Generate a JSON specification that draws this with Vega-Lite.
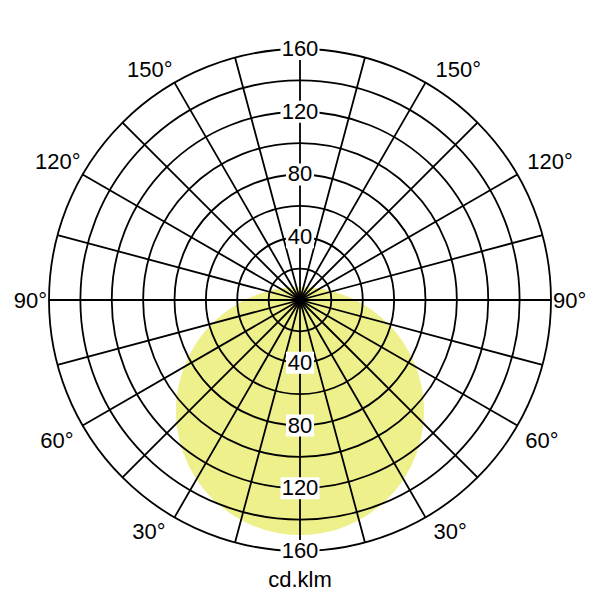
{
  "$schema": "https://vega.github.io/schema/vega-lite/v6.json",
  "width": 600,
  "height": 600,
  "padding": 0,
  "autosize": {"type": "none"},
  "background": "white",
  "config": {
    "view": {"stroke": null},
    "text": {"font": "Liberation Sans", "fontSize": 22, "color": "black"}
  },
  "datasets": {
    "light": [
      {"x": -79, "top": -70.75, "bot": -70.75},
      {"x": -78.9, "top": -66.78, "bot": -74.72},
      {"x": -78.5, "top": -61.88, "bot": -79.62},
      {"x": -78, "top": -58.22, "bot": -83.28},
      {"x": -77, "top": -53.09, "bot": -88.41},
      {"x": -76, "top": -49.19, "bot": -92.31},
      {"x": -75, "top": -45.93, "bot": -95.57},
      {"x": -72, "top": -38.24, "bot": -103.26},
      {"x": -68, "top": -30.54, "bot": -110.96},
      {"x": -62, "top": -21.79, "bot": -119.71},
      {"x": -55, "top": -14.04, "bot": -127.46},
      {"x": -45, "top": -5.82, "bot": -135.68},
      {"x": -30, "top": 2.33, "bot": -143.83},
      {"x": -15, "top": 6.81, "bot": -148.31},
      {"x": 0, "top": 8.25, "bot": -149.75},
      {"x": 15, "top": 6.81, "bot": -148.31},
      {"x": 30, "top": 2.33, "bot": -143.83},
      {"x": 45, "top": -5.82, "bot": -135.68},
      {"x": 55, "top": -14.04, "bot": -127.46},
      {"x": 62, "top": -21.79, "bot": -119.71},
      {"x": 68, "top": -30.54, "bot": -110.96},
      {"x": 72, "top": -38.24, "bot": -103.26},
      {"x": 75, "top": -45.93, "bot": -95.57},
      {"x": 76, "top": -49.19, "bot": -92.31},
      {"x": 77, "top": -53.09, "bot": -88.41},
      {"x": 78, "top": -58.22, "bot": -83.28},
      {"x": 78.5, "top": -61.88, "bot": -79.62},
      {"x": 78.9, "top": -66.78, "bot": -74.72},
      {"x": 79, "top": -70.75, "bot": -70.75}
    ],
    "rings": [
      {"r": 20}, {"r": 40}, {"r": 60}, {"r": 80},
      {"r": 100}, {"r": 120}, {"r": 140}, {"r": 160}
    ],
    "spokes": [
      {"a": -165}, {"a": -150}, {"a": -135}, {"a": -120}, {"a": -105}, {"a": -90},
      {"a": -75}, {"a": -60}, {"a": -45}, {"a": -30}, {"a": -15}, {"a": 0},
      {"a": 15}, {"a": 30}, {"a": 45}, {"a": 60}, {"a": 75}, {"a": 90},
      {"a": 105}, {"a": 120}, {"a": 135}, {"a": 150}, {"a": 165}, {"a": 180}
    ],
    "values": [
      {"v": 40, "label": "40"}, {"v": 80, "label": "80"},
      {"v": 120, "label": "120"}, {"v": 160, "label": "160"},
      {"v": -40, "label": "40"}, {"v": -80, "label": "80"},
      {"v": -120, "label": "120"}, {"v": -160, "label": "160"}
    ],
    "angles": [
      {"a": 150, "label": "150°"}, {"a": 120, "label": "120°"},
      {"a": 90, "label": "90°"}, {"a": 60, "label": "60°"},
      {"a": 30, "label": "30°"},
      {"a": -150, "label": "150°"}, {"a": -120, "label": "120°"},
      {"a": -90, "label": "90°"}, {"a": -60, "label": "60°"},
      {"a": -30, "label": "30°"}
    ]
  },
  "layer": [
    {
      "data": {"name": "light"},
      "mark": {"type": "area", "color": "#eef08b", "opacity": 1, "interpolate": "monotone"},
      "encoding": {
        "x": {"field": "x", "type": "quantitative", "axis": null,
              "scale": {"domain": [-191.235, 191.235], "nice": false, "zero": false}},
        "y": {"field": "top", "type": "quantitative", "axis": null, "stack": null,
              "scale": {"domain": [-191.235, 191.235], "nice": false, "zero": false}},
        "y2": {"field": "bot"}
      }
    },
    {
      "data": {"name": "rings"},
      "mark": {"type": "arc", "filled": false, "stroke": "black", "strokeWidth": 1.8},
      "encoding": {
        "theta": {"datum": -180, "type": "quantitative",
                  "scale": {"domain": [-180, 180], "range": [0, 6.283185307179586], "nice": false, "zero": false}},
        "theta2": {"datum": 180},
        "radius": {"field": "r", "type": "quantitative", "stack": null,
                   "scale": {"type": "linear", "domain": [0, 160], "range": [0, 251], "nice": false, "zero": true}}
      }
    },
    {
      "data": {"name": "spokes"},
      "mark": {"type": "arc", "filled": false, "stroke": "black", "strokeWidth": 1.8},
      "encoding": {
        "theta": {"field": "a", "type": "quantitative", "stack": null,
                  "scale": {"domain": [-180, 180], "range": [0, 6.283185307179586], "nice": false, "zero": false}},
        "theta2": {"field": "a"},
        "radius": {"datum": 160, "type": "quantitative",
                   "scale": {"type": "linear", "domain": [0, 160], "range": [0, 251], "nice": false, "zero": true}},
        "radius2": {"datum": 0}
      }
    },
    {
      "data": {"name": "values"},
      "transform": [{"filter": "abs(datum.v) < 100"}],
      "mark": {"type": "point", "shape": "M-1,-0.786H1V0.786H-1Z", "size": 784,
               "filled": true, "color": "white", "opacity": 1, "strokeWidth": 0},
      "encoding": {
        "x": {"datum": 0, "type": "quantitative", "axis": null,
              "scale": {"domain": [-191.235, 191.235], "nice": false, "zero": false}},
        "y": {"field": "v", "type": "quantitative", "axis": null,
              "scale": {"domain": [-191.235, 191.235], "nice": false, "zero": false}}
      }
    },
    {
      "data": {"name": "values"},
      "transform": [{"filter": "abs(datum.v) >= 100"}],
      "mark": {"type": "point", "shape": "M-1,-0.564H1V0.564H-1Z", "size": 1521,
               "filled": true, "color": "white", "opacity": 1, "strokeWidth": 0},
      "encoding": {
        "x": {"datum": 0, "type": "quantitative", "axis": null,
              "scale": {"domain": [-191.235, 191.235], "nice": false, "zero": false}},
        "y": {"field": "v", "type": "quantitative", "axis": null,
              "scale": {"domain": [-191.235, 191.235], "nice": false, "zero": false}}
      }
    },
    {
      "data": {"name": "values"},
      "mark": {"type": "text", "align": "center", "baseline": "middle"},
      "encoding": {
        "x": {"datum": 0, "type": "quantitative", "axis": null,
              "scale": {"domain": [-191.235, 191.235], "nice": false, "zero": false}},
        "y": {"field": "v", "type": "quantitative", "axis": null,
              "scale": {"domain": [-191.235, 191.235], "nice": false, "zero": false}},
        "text": {"field": "label"}
      }
    },
    {
      "data": {"name": "angles"},
      "transform": [{"filter": "datum.a > 90"}],
      "mark": {"type": "text", "align": "right", "baseline": "alphabetic", "dx": -2, "dy": -6},
      "encoding": {
        "theta": {"field": "a", "type": "quantitative", "stack": null,
                  "scale": {"domain": [-180, 180], "range": [0, 6.283185307179586], "nice": false, "zero": false}},
        "radius": {"datum": 160, "type": "quantitative",
                   "scale": {"type": "linear", "domain": [0, 160], "range": [0, 251], "nice": false, "zero": true}},
        "text": {"field": "label"}
      }
    },
    {
      "data": {"name": "angles"},
      "transform": [{"filter": "datum.a < -90"}],
      "mark": {"type": "text", "align": "left", "baseline": "alphabetic", "dx": 10, "dy": -6},
      "encoding": {
        "theta": {"field": "a", "type": "quantitative", "stack": null,
                  "scale": {"domain": [-180, 180], "range": [0, 6.283185307179586], "nice": false, "zero": false}},
        "radius": {"datum": 160, "type": "quantitative",
                   "scale": {"type": "linear", "domain": [0, 160], "range": [0, 251], "nice": false, "zero": true}},
        "text": {"field": "label"}
      }
    },
    {
      "data": {"name": "angles"},
      "transform": [{"filter": "datum.a == 90"}],
      "mark": {"type": "text", "align": "right", "baseline": "alphabetic", "dx": -2, "dy": 8},
      "encoding": {
        "theta": {"field": "a", "type": "quantitative", "stack": null,
                  "scale": {"domain": [-180, 180], "range": [0, 6.283185307179586], "nice": false, "zero": false}},
        "radius": {"datum": 160, "type": "quantitative",
                   "scale": {"type": "linear", "domain": [0, 160], "range": [0, 251], "nice": false, "zero": true}},
        "text": {"field": "label"}
      }
    },
    {
      "data": {"name": "angles"},
      "transform": [{"filter": "datum.a == -90"}],
      "mark": {"type": "text", "align": "left", "baseline": "alphabetic", "dx": 2, "dy": 8},
      "encoding": {
        "theta": {"field": "a", "type": "quantitative", "stack": null,
                  "scale": {"domain": [-180, 180], "range": [0, 6.283185307179586], "nice": false, "zero": false}},
        "radius": {"datum": 160, "type": "quantitative",
                   "scale": {"type": "linear", "domain": [0, 160], "range": [0, 251], "nice": false, "zero": true}},
        "text": {"field": "label"}
      }
    },
    {
      "data": {"name": "angles"},
      "transform": [{"filter": "datum.a > 0 && datum.a < 90"}],
      "mark": {"type": "text", "align": "right", "baseline": "alphabetic", "dx": -9, "dy": 22},
      "encoding": {
        "theta": {"field": "a", "type": "quantitative", "stack": null,
                  "scale": {"domain": [-180, 180], "range": [0, 6.283185307179586], "nice": false, "zero": false}},
        "radius": {"datum": 160, "type": "quantitative",
                   "scale": {"type": "linear", "domain": [0, 160], "range": [0, 251], "nice": false, "zero": true}},
        "text": {"field": "label"}
      }
    },
    {
      "data": {"name": "angles"},
      "transform": [{"filter": "datum.a < 0 && datum.a > -90"}],
      "mark": {"type": "text", "align": "left", "baseline": "alphabetic", "dx": 8, "dy": 22},
      "encoding": {
        "theta": {"field": "a", "type": "quantitative", "stack": null,
                  "scale": {"domain": [-180, 180], "range": [0, 6.283185307179586], "nice": false, "zero": false}},
        "radius": {"datum": 160, "type": "quantitative",
                   "scale": {"type": "linear", "domain": [0, 160], "range": [0, 251], "nice": false, "zero": true}},
        "text": {"field": "label"}
      }
    },
    {
      "data": {"values": [{"unit": "cd.klm"}]},
      "mark": {"type": "text", "align": "center", "baseline": "alphabetic", "dy": 36},
      "encoding": {
        "theta": {"datum": 0, "type": "quantitative",
                  "scale": {"domain": [-180, 180], "range": [0, 6.283185307179586], "nice": false, "zero": false}},
        "radius": {"datum": 160, "type": "quantitative",
                   "scale": {"type": "linear", "domain": [0, 160], "range": [0, 251], "nice": false, "zero": true}},
        "text": {"field": "unit"}
      }
    }
  ]
}
